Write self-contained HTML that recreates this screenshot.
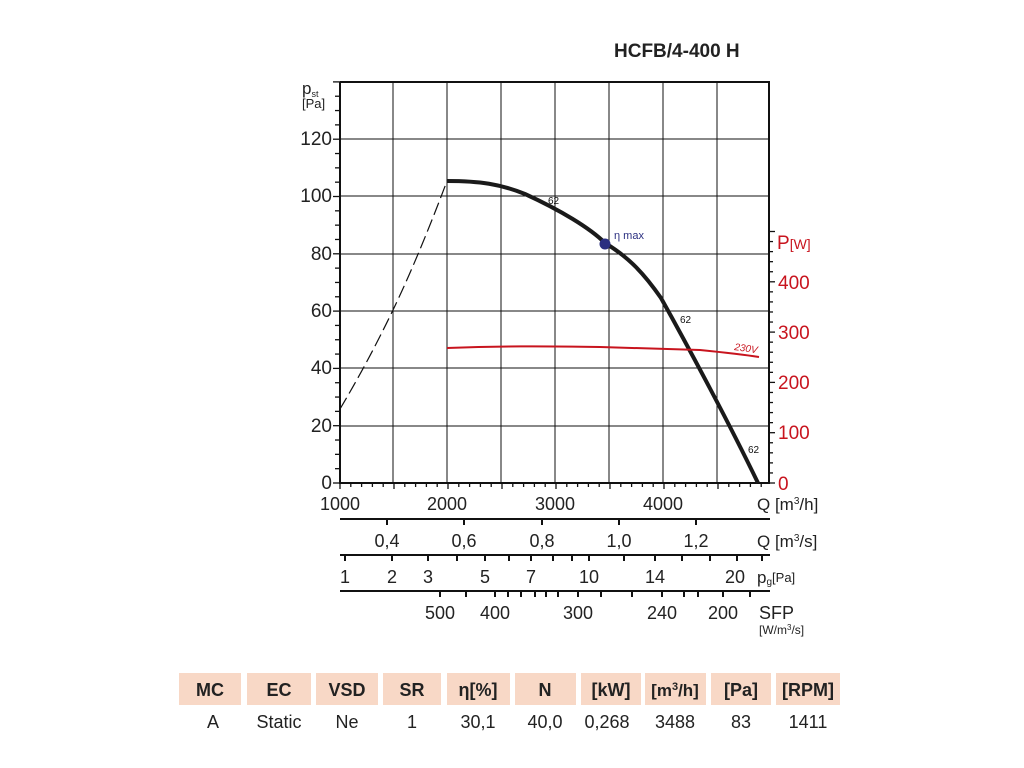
<!DOCTYPE html>
<html><head><meta charset="utf-8"><style>
body{margin:0;background:#fff;width:1024px;height:768px;overflow:hidden}
svg{display:block;font-family:"Liberation Sans",sans-serif}
</style></head><body>
<svg width="1024" height="768" viewBox="0 0 1024 768">
<text x="614" y="57" font-size="19" font-weight="bold" fill="#222">HCFB/4-400 H</text>
<!-- grid -->
<g stroke="#111" stroke-width="1">
<line x1="393" y1="82" x2="393" y2="483"/><line x1="447" y1="82" x2="447" y2="483"/>
<line x1="501" y1="82" x2="501" y2="483"/><line x1="555" y1="82" x2="555" y2="483"/>
<line x1="609" y1="82" x2="609" y2="483"/><line x1="663" y1="82" x2="663" y2="483"/>
<line x1="717" y1="82" x2="717" y2="483"/>
<line x1="340" y1="139" x2="769" y2="139"/><line x1="340" y1="196" x2="769" y2="196"/>
<line x1="340" y1="254" x2="769" y2="254"/><line x1="340" y1="311" x2="769" y2="311"/>
<line x1="340" y1="368" x2="769" y2="368"/><line x1="340" y1="426" x2="769" y2="426"/>
</g>
<g stroke="#111" stroke-width="2" fill="none">
<polyline points="340,82 769,82 769,483 340,483 340,82"/>
</g>
<g stroke="#111" stroke-width="1.3" id="yt"></g>
<g stroke="#111" stroke-width="1.3" id="xt"></g>
<g stroke="#111" stroke-width="1.3" id="rt"></g>
<g font-size="19" fill="#222" text-anchor="end">
<text x="332" y="489">0</text><text x="332" y="432">20</text><text x="332" y="374">40</text>
<text x="332" y="317">60</text><text x="332" y="260">80</text><text x="332" y="202">100</text><text x="332" y="145">120</text>
</g>
<text x="302" y="94" font-size="17" fill="#222">p<tspan font-size="9" dy="3">st</tspan></text>
<text x="302" y="108" font-size="13" fill="#222">[Pa]</text>
<g font-size="19" fill="#c8141e">
<text x="778" y="490">0</text><text x="778" y="439">100</text><text x="778" y="389">200</text>
<text x="778" y="339">300</text><text x="778" y="289">400</text>
<text x="777" y="249">P<tspan font-size="14">[W]</tspan></text>
</g>
<path d="M340,409 Q368,362 393,310 T447,181" stroke="#111" stroke-width="1.2" fill="none" stroke-dasharray="13,5"/>
<path d="M447,181 C480,181 500,184 525,194 C560,210 590,228 605,243 C630,258 645,275 661,298 C690,350 730,425 758,483" stroke="#1a1a1a" stroke-width="4" fill="none"/>
<path d="M447,348 C500,346 540,346 600,347 L700,350 C720,352 740,354 759,357" stroke="#c8141e" stroke-width="2" fill="none"/>
<text x="734" y="350" font-size="10" font-style="italic" fill="#c8141e" transform="rotate(8 734 350)">230V</text>
<circle cx="605" cy="244" r="5.5" fill="#2b2f80"/>
<text x="614" y="239" font-size="11" fill="#2b2f80">η max</text>
<g font-size="10" fill="#111"><text x="548" y="204">62</text><text x="680" y="323">62</text><text x="748" y="453">62</text></g>
<g font-size="18" fill="#222" text-anchor="middle">
<text x="340" y="510">1000</text><text x="447" y="510">2000</text><text x="555" y="510">3000</text><text x="663" y="510">4000</text>
</g>
<text x="757" y="510" font-size="17" fill="#222">Q [m<tspan font-size="10" dy="-6">3</tspan><tspan dy="6">/h]</tspan></text>
<g stroke="#111" stroke-width="2"><line x1="340" y1="519" x2="770" y2="519"/><line x1="340" y1="555" x2="770" y2="555"/><line x1="340" y1="591" x2="770" y2="591"/></g>
<g stroke="#111" stroke-width="2">
<line x1="387" y1="519" x2="387" y2="525"/><line x1="464" y1="519" x2="464" y2="525"/><line x1="542" y1="519" x2="542" y2="525"/><line x1="619" y1="519" x2="619" y2="525"/><line x1="696" y1="519" x2="696" y2="525"/>
</g>
<g font-size="18" fill="#222" text-anchor="middle">
<text x="387" y="547">0,4</text><text x="464" y="547">0,6</text><text x="542" y="547">0,8</text><text x="619" y="547">1,0</text><text x="696" y="547">1,2</text>
</g>
<text x="757" y="547" font-size="17" fill="#222">Q [m<tspan font-size="10" dy="-6">3</tspan><tspan dy="6">/s]</tspan></text>
<g stroke="#111" stroke-width="2" id="pgt"></g>
<g font-size="18" fill="#222" text-anchor="middle">
<text x="345" y="583">1</text><text x="392" y="583">2</text><text x="428" y="583">3</text><text x="485" y="583">5</text><text x="531" y="583">7</text><text x="589" y="583">10</text><text x="655" y="583">14</text><text x="735" y="583">20</text>
</g>
<text x="757" y="583" font-size="17" fill="#222">p<tspan font-size="10" dy="2">g</tspan><tspan font-size="13" dy="-3">[Pa]</tspan></text>
<g stroke="#111" stroke-width="2" id="sft"></g>
<g font-size="18" fill="#222" text-anchor="middle">
<text x="440" y="619">500</text><text x="495" y="619">400</text><text x="578" y="619">300</text><text x="662" y="619">240</text><text x="723" y="619">200</text>
</g>
<text x="759" y="619" font-size="18" fill="#222">SFP</text>
<text x="759" y="634" font-size="12" fill="#222">[W/m<tspan font-size="8" dy="-4">3</tspan><tspan dy="4">/s]</tspan></text>
<g fill="#f8d8c6">
<rect x="179" y="673" width="62" height="32"/><rect x="247" y="673" width="64" height="32"/>
<rect x="316" y="673" width="62" height="32"/><rect x="383" y="673" width="58" height="32"/>
<rect x="447" y="673" width="63" height="32"/><rect x="515" y="673" width="61" height="32"/>
<rect x="581" y="673" width="60" height="32"/><rect x="645" y="673" width="61" height="32"/>
<rect x="711" y="673" width="60" height="32"/><rect x="776" y="673" width="64" height="32"/>
</g>
<g font-size="18" font-weight="bold" fill="#222" text-anchor="middle">
<text x="210" y="696">MC</text><text x="279" y="696">EC</text><text x="347" y="696">VSD</text><text x="412" y="696">SR</text>
<text x="478" y="696">η[%]</text><text x="545" y="696">N</text><text x="611" y="696">[kW]</text>
<text x="675" y="696" font-size="17">[m<tspan font-size="11" dy="-6">3</tspan><tspan dy="6">/h]</tspan></text>
<text x="741" y="696">[Pa]</text><text x="808" y="696">[RPM]</text>
</g>
<g font-size="18" fill="#222" text-anchor="middle">
<text x="213" y="728">A</text><text x="279" y="728">Static</text><text x="347" y="728">Ne</text><text x="412" y="728">1</text>
<text x="478" y="728">30,1</text><text x="545" y="728">40,0</text><text x="607" y="728">0,268</text>
<text x="675" y="728">3488</text><text x="741" y="728">83</text><text x="808" y="728">1411</text>
</g>
</svg>
<script>
var ns="http://www.w3.org/2000/svg";
function L(g,x1,y1,x2,y2){var l=document.createElementNS(ns,"line");l.setAttribute("x1",x1);l.setAttribute("y1",y1);l.setAttribute("x2",x2);l.setAttribute("y2",y2);document.getElementById(g).appendChild(l);}
for(var v=0;v<=140;v+=5){var y=483-v*2.865;L("yt",v%20?335:333,y,340,y);}
for(var q=1000;q<=4950;q+=100){var x=340+(q-1000)*0.108;L("xt",x,483,x,q%500?487:489);}
for(var w=0;w<=500;w+=20){var y=483-w*0.503;if(y<82)break;L("rt",769,y,w%100?773:775,y);}
[345,392,428,457,485,509,531,553,572,589,624,655,682,710,737,762].forEach(function(x){L("pgt",x,555,x,561);});
[440,466,495,508,521,535,546,558,578,601,632,662,684,698,723,750].forEach(function(x){L("sft",x,591,x,597);});
</script>
</body></html>
